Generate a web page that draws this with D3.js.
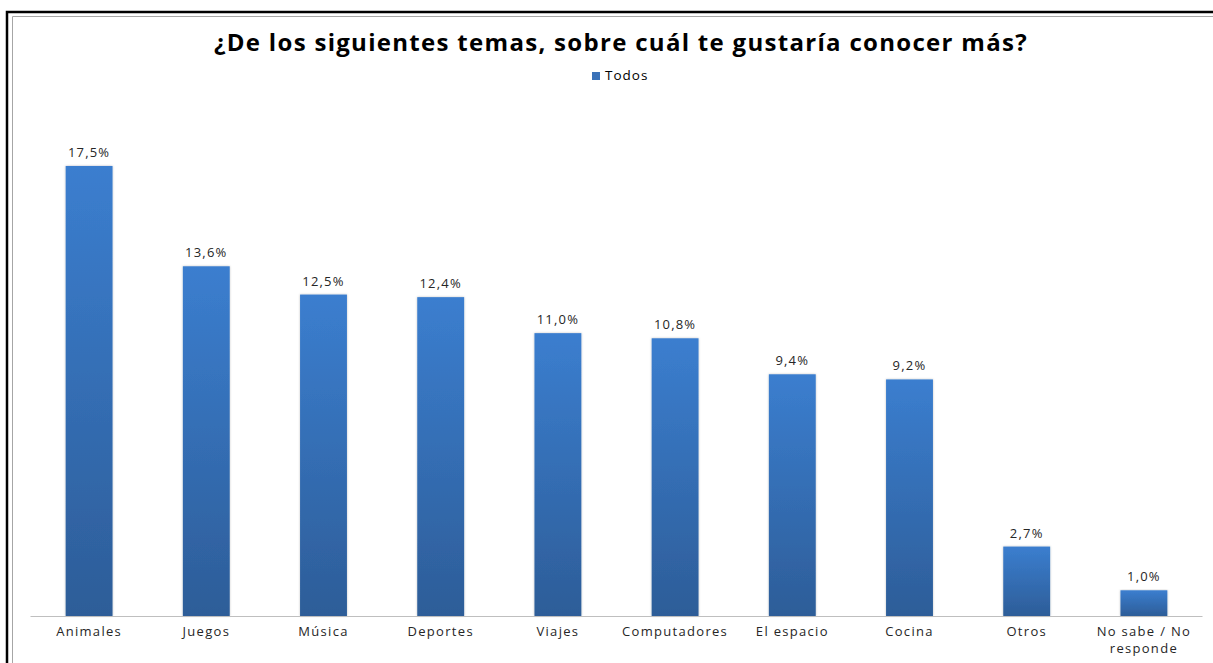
<!DOCTYPE html>
<html><head><meta charset="utf-8">
<script src="https://cdn.jsdelivr.net/npm/d3@7"></script>
<style>body{margin:0;background:#fff}svg{display:block}text{font-family:"Open Sans","Noto Sans",sans-serif}</style>
</head><body>
<script>
const categories = ["Animales","Juegos","Música","Deportes","Viajes","Computadores","El espacio","Cocina","Otros","No sabe / No responde"];
const values = [17.5,13.6,12.5,12.4,11.0,10.8,9.4,9.2,2.7,1.0];
const seriesName = "Todos";
const title = "¿De los siguientes temas, sobre cuál te gustaría conocer más?";

const W=1213,H=663;
const svg=d3.select("body").append("svg").attr("width",W).attr("height",H);
const defs=svg.append("defs");
const g=defs.append("linearGradient").attr("id","bg").attr("x1",0).attr("y1",0).attr("x2",0).attr("y2",1);
g.append("stop").attr("offset","0%").attr("stop-color","#3b7ecf");
g.append("stop").attr("offset","100%").attr("stop-color","#2d5d98");
const f=defs.append("filter").attr("id","sh").attr("x","-20%").attr("y","-5%").attr("width","140%").attr("height","110%");
f.append("feDropShadow").attr("dx",0).attr("dy",0).attr("stdDeviation",1).attr("flood-color","#000").attr("flood-opacity",0.25);

// frame
svg.append("path").attr("d",`M7,${H} V12 H${W}`).attr("fill","none").attr("stroke","#000").attr("stroke-width",2.5);
svg.append("path").attr("d",`M12.5,${H} V16.5 H${W}`).attr("fill","none").attr("stroke","#a6a6a6").attr("stroke-width",1);

const x=d3.scaleBand().domain(categories).range([30.5,1202.5]).paddingInner(0.6).paddingOuter(0.3);
const y=d3.scaleLinear().domain([0,20]).range([616,616-514.3]);

svg.append("text").attr("x",621).attr("y",51).attr("text-anchor","middle")
  .attr("font-size",24).attr("font-weight","bold").attr("fill","#000").attr("letter-spacing",1.3).text(title);

// legend
svg.append("rect").attr("x",592).attr("y",72).attr("width",8).attr("height",8).attr("fill","#3a72b8");
svg.append("text").attr("x",605).attr("y",80).attr("font-size",13.5).attr("fill","#000").attr("letter-spacing",1).text(seriesName);

svg.append("g").selectAll("rect").data(values).join("rect")
  .attr("x",(d,i)=>x(categories[i])).attr("width",x.bandwidth())
  .attr("y",d=>y(d)).attr("height",d=>y(0)-y(d))
  .attr("fill","url(#bg)").attr("filter","url(#sh)");

svg.append("g").selectAll("text").data(values).join("text")
  .attr("x",(d,i)=>x(categories[i])+x.bandwidth()/2).attr("y",d=>y(d)-9)
  .attr("text-anchor","middle").attr("font-size",13).attr("fill","#262626").attr("letter-spacing",1.2)
  .text(d=>d.toFixed(1).replace(".",",")+"%");

const ax=svg.append("g").attr("transform",`translate(0,${y(0)})`).call(d3.axisBottom(x).tickSize(0).tickPadding(0));
ax.select(".domain").attr("stroke","#bfbfbf").attr("stroke-width",1.2).attr("d","M30.5,0.5H1202.5");
ax.selectAll(".tick text").remove();
ax.selectAll(".tick").each(function(d){
  const t=d3.select(this).append("text").attr("text-anchor","middle").attr("font-size",13).attr("fill","#262626").attr("letter-spacing",1.3)
   .attr("y",20).attr("font-family",'"Open Sans","Noto Sans",sans-serif');
  if(d==="No sabe / No responde"){
    t.append("tspan").attr("x",0).text("No sabe / No");
    t.append("tspan").attr("x",0).attr("dy",17).text("responde");
  } else t.text(d);
});
</script>
</body></html>
